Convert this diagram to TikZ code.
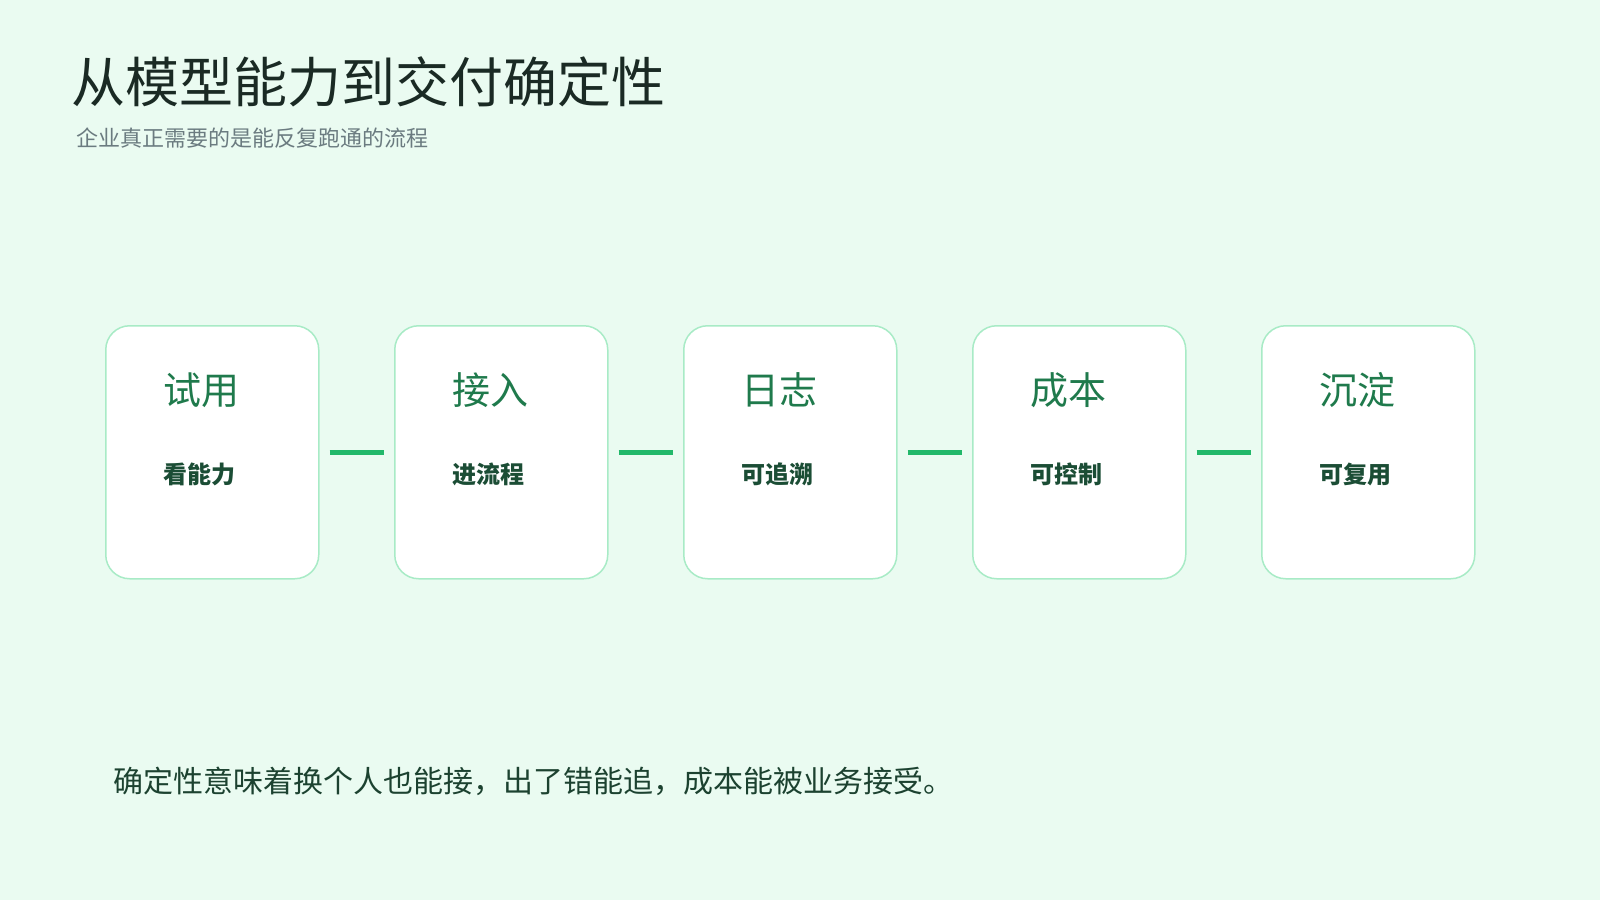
\documentclass[tikz,border=0pt]{standalone}
\usepackage{fontspec}
\setmainfont{Noto Sans CJK SC}
\newfontfamily\cjkb[BoldFont={Noto Sans CJK SC Bold}]{Noto Sans CJK SC}
\definecolor{bg}{HTML}{EAFBF1}
\definecolor{bord}{HTML}{A8EBC6}
\definecolor{ttl}{HTML}{1F7A4C}
\definecolor{sub}{HTML}{1B4D35}
\definecolor{lnk}{HTML}{22B86A}
\definecolor{dark}{HTML}{1A2A24}
\definecolor{gry}{HTML}{6B7B80}
\begin{document}
\begin{tikzpicture}[x=1pt,y=-1pt,
  card/.style={draw=bord,line width=1.5pt,fill=white,rounded corners=24pt,minimum width=213pt,minimum height=253pt,anchor=north west},
  ctitle/.style={text=ttl,font=\fontsize{38}{40}\selectfont,anchor=west},
  csub/.style={text=sub,font=\fontsize{24}{26}\selectfont\bfseries,anchor=west},
  link/.style={draw=lnk,line width=5pt}]
\fill[bg] (0,0) rectangle (1600,900);
\useasboundingbox (0,0) rectangle (1600,900);
\node[anchor=west,text=dark,font=\fontsize{54}{58}\selectfont] (t) at (68,82) {从模型能力到交付确定性};
\node[anchor=west,text=gry,font=\fontsize{22}{24}\selectfont] (s) at (73,138) {企业真正需要的是能反复跑通的流程};
\foreach \i/\a/\b in {0/试用/看能力,1/接入/进流程,2/日志/可追溯,3/成本/可控制,4/沉淀/可复用}{
  \node[card] (c\i) at (105+289*\i,325) {};
  \node[ctitle] (h\i) at (160+289*\i,390) {\a};
  \node[csub] (d\i) at (160+289*\i,474) {\b};
}
\foreach \i/\j in {0/1,1/2,2/3,3/4}{
  \draw[link] ([xshift=10pt]c\i.east) -- ([xshift=-10pt]c\j.west);
}
\node[anchor=west,text=dark!70!ttl,font=\fontsize{30}{32}\selectfont] (f) at (110,781) {确定性意味着换个人也能接，出了错能追，成本能被业务接受。};
\end{tikzpicture}
\end{document}
